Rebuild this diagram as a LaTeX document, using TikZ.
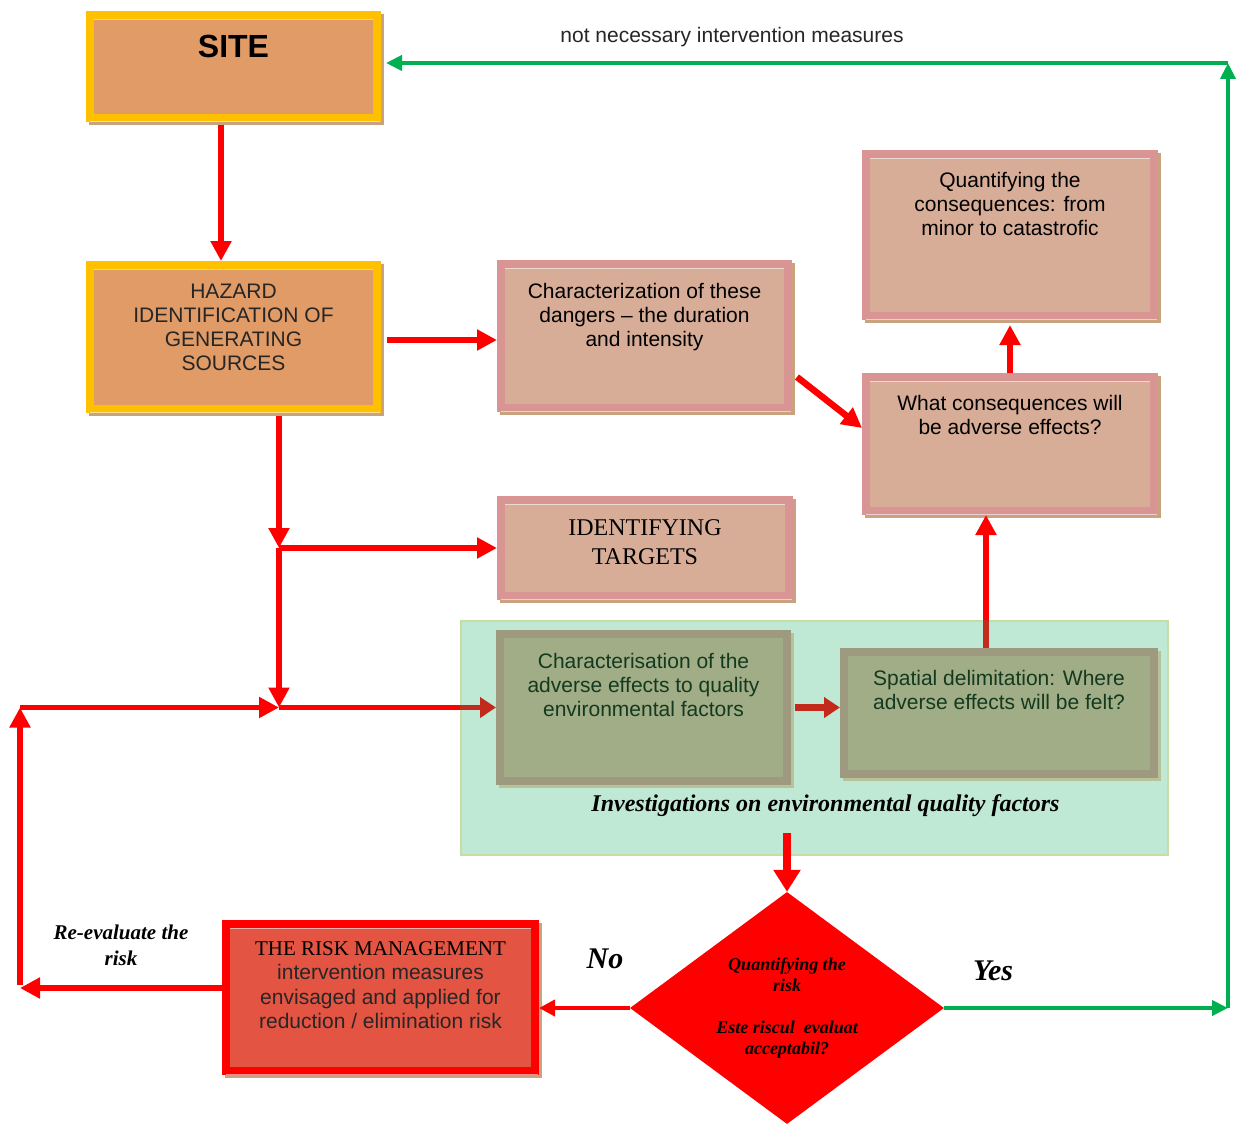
\documentclass[tikz,border=0pt]{standalone}
\usepackage{fontspec}
\setmainfont{Liberation Serif}
\setsansfont{Liberation Sans}
\newfontfamily\arial{Liberation Sans}
\usetikzlibrary{arrows.meta,shapes.geometric,calc}
\definecolor{orfill}{HTML}{E09B66}
\definecolor{orline}{HTML}{FFC000}
\definecolor{pkfill}{HTML}{D7AD98}
\definecolor{pkline}{HTML}{D99594}
\definecolor{olfill}{HTML}{A0AD87}
\definecolor{olline}{HTML}{9E9A80}
\definecolor{rdfill}{HTML}{E35442}
\definecolor{tanshadow}{HTML}{C9A27F}
\definecolor{olshadow}{HTML}{B7C29A}
\definecolor{rgfill}{HTML}{BFE9D4}
\definecolor{rgline}{HTML}{C8DDA4}
\definecolor{arrred}{HTML}{FF0000}
\definecolor{darkred}{HTML}{C22A1C}
\definecolor{grn}{HTML}{00B050}
\definecolor{txtgray}{HTML}{262626}
\definecolor{txtgreen}{HTML}{143A1E}
\newcommand\bx[4]{\parbox[c][#1][t]{#2}{\centering\rule{0pt}{#3}\ignorespaces#4\par}}
\tikzset{
  box/.style={rectangle, inner sep=0pt, line width=8pt,
    preaction={fill=#1, draw=#1, transform canvas={shift={(3pt,-3pt)}}}},
  box/.default=tanshadow,
  orbox/.style={box, fill=orfill, draw=orline, text=txtgray, font=\arial\fontsize{21}{24}\selectfont},
  pkbox/.style={box, fill=pkfill, draw=pkline, text=black, font=\arial\fontsize{21}{24}\selectfont},
  olbox/.style={box=olshadow, fill=olfill, draw=olline, text=txtgreen, font=\arial\fontsize{21}{24}\selectfont},
  rline/.style={draw=arrred, line width=5.5pt},
  arr/.style={draw=arrred, line width=5.5pt, -{Triangle[length=20pt,width=20pt]}},
  darr/.style={arr, draw=darkred, -{Triangle[length=16pt,width=20pt]}},
  garr/.style={draw=grn, line width=4.5pt, -{Triangle[length=16pt,width=15pt]}},
  shine/.style={draw=white, opacity=0.55, line width=1pt},
}
\begin{document}
\begin{tikzpicture}[x=1pt,y=-1pt]
\useasboundingbox (0,0) rectangle (1240,1124);

% region
\node[draw=rgline, fill=rgfill, line width=2pt, inner sep=0pt, minimum width=707pt, minimum height=234pt] (inv) at (814.5,738) {};

% boxes
\node[orbox] (site) at (233.5,66.5) {\bx{103pt}{287pt}{43pt}{\fontsize{32}{36}\selectfont\bfseries\color{black}SITE}};
\node[orbox] (hazard) at (233.5,337) {\bx{144pt}{287pt}{33pt}{HAZARD\\IDENTIFICATION OF\\GENERATING\\SOURCES}};
\node[pkbox] (char) at (644.5,336) {\bx{144pt}{287pt}{34pt}{Characterization of these\\dangers – the duration\\and intensity}};
\node[pkbox] (quant) at (1010,235) {\bx{162pt}{288pt}{33pt}{Quantifying the\\consequences: from\\minor to catastrofic}};
\node[pkbox] (what) at (1010,444) {\bx{134pt}{288pt}{33pt}{What consequences will\\be adverse effects?}};
\node[pkbox, font=\rmfamily\fontsize{24}{29}\selectfont] (targets) at (645,548) {\bx{96pt}{288pt}{35pt}{IDENTIFYING\\TARGETS}};
\node[olbox] (adv) at (643.5,707.5) {\bx{147pt}{287pt}{34pt}{Characterisation of the\\adverse effects to quality\\environmental factors}};
\node[olbox] (spatial) at (999,713) {\bx{122pt}{310pt}{33pt}{Spatial delimitation: Where\\adverse effects will be felt?}};
\node[font=\rmfamily\bfseries\itshape\fontsize{24}{28}\selectfont, anchor=base] (invlbl) at (825.5,811) {Investigations on environmental quality factors};

\node[diamond, fill=arrred, inner sep=0pt, minimum width=314pt, minimum height=232pt, aspect=1.35, align=center,
  font=\rmfamily\bfseries\itshape\fontsize{18}{21}\selectfont] (dia) at (787,1008)
  {Quantifying the\\risk\\[21pt]Este riscul\ \ evaluat\\acceptabil?};

\node[box, fill=rdfill, draw=arrred, text=txtgray, font=\arial\fontsize{21}{24.5}\selectfont] (risk) at (380.5,997.5)
  {\bx{147pt}{309pt}{31pt}{{\rmfamily\color{black}THE RISK MANAGEMENT}\\intervention measures\\envisaged and applied for\\reduction / elimination risk}};

% thin highlight lines inside the box borders
\foreach \b in {site,hazard,char,quant,what,targets,risk}{
  \draw[shine] ([xshift=8pt,yshift=-8.5pt]\b.north west) -- ([xshift=-8pt,yshift=-8.5pt]\b.north east);
  \draw[shine] ([xshift=4pt,yshift=0.5pt]\b.south west) -- ([xshift=-1pt,yshift=0.5pt]\b.south east);
}

% labels
\node[font=\arial\fontsize{21}{24}\selectfont, text=txtgray, anchor=base] (notnec) at (732,43) {not necessary intervention measures};
\node[font=\rmfamily\bfseries\itshape\fontsize{30}{34}\selectfont, anchor=base] (no) at (605,968) {No};
\node[font=\rmfamily\bfseries\itshape\fontsize{30}{34}\selectfont, anchor=base] (yes) at (993,980) {Yes};
\node[font=\rmfamily\bfseries\itshape\fontsize{21}{26}\selectfont, align=center] (reeval) at (121,945) {Re-evaluate the\\risk};

% helper coordinates
\coordinate (hzb) at ([xshift=45.5pt]hazard.south);
\coordinate (j1) at (hzb |- targets.west);
\coordinate (j2) at (j1 |- adv.west);
\coordinate (c1) at (j2 -| 20,0);
\coordinate (rk) at ([yshift=9.5pt]risk.west);
\coordinate (c2) at (c1 |- rk);
\coordinate (sp) at ([xshift=-13pt]spatial.north);
\coordinate (c3) at (dia.east -| 1228,0);
\coordinate (c4) at (c3 |- 0,63);

% connectors
\draw[arr, shorten <=3pt] ([xshift=-12.5pt]site.south) -- ([xshift=-12.5pt]hazard.north);
\draw[arr] ([xshift=6pt,yshift=-3pt]hazard.east) -- ([yshift=-3pt]hazard.east -| char.west);
\draw[arr, line width=6.5pt] ([xshift=5pt,yshift=-41pt]char.east) -- ([yshift=16pt]what.west);
\draw[arr, line width=6.5pt, shorten >=5pt] (what.north) -- (quant.south);
\draw[line width=6.5pt, draw=darkred] (sp) -- (sp |- inv.north);
\draw[arr, line width=6.5pt] (sp |- inv.north) -- (sp |- what.south);
\draw[arr, shorten <=3pt] (hzb) -- (j1);
\draw[arr] (j1) -- (targets.west);
\draw[arr] (j1) -- (j2);
\draw[rline] (j2) -- (j2 -| inv.west);
\draw[darr] (j2 -| inv.west) -- (adv.west);
\draw[darr, line width=6.5pt] ([xshift=4pt]adv.east) -- (adv.east -| spatial.west);
\draw[arr] (rk) -- (c2);
\draw[arr, shorten <=3pt] (c2) -- (c1);
\draw[arr] (c1) -- (j2);
\draw[arr, line width=8pt, -{Triangle[length=22pt,width=26pt]}] ([xshift=-27.5pt,yshift=23pt]inv.south) -- (dia.north);
\draw[arr, line width=4.5pt, -{Triangle[length=16pt,width=16pt]}] (dia.west) -- (dia.west -| risk.east);
\draw[garr] (dia.east) -- (c3);
\draw[garr] (c3) -- (c4);
\draw[garr, shorten >=5pt] (c4) -- (c4 -| site.east);
\end{tikzpicture}
\end{document}
